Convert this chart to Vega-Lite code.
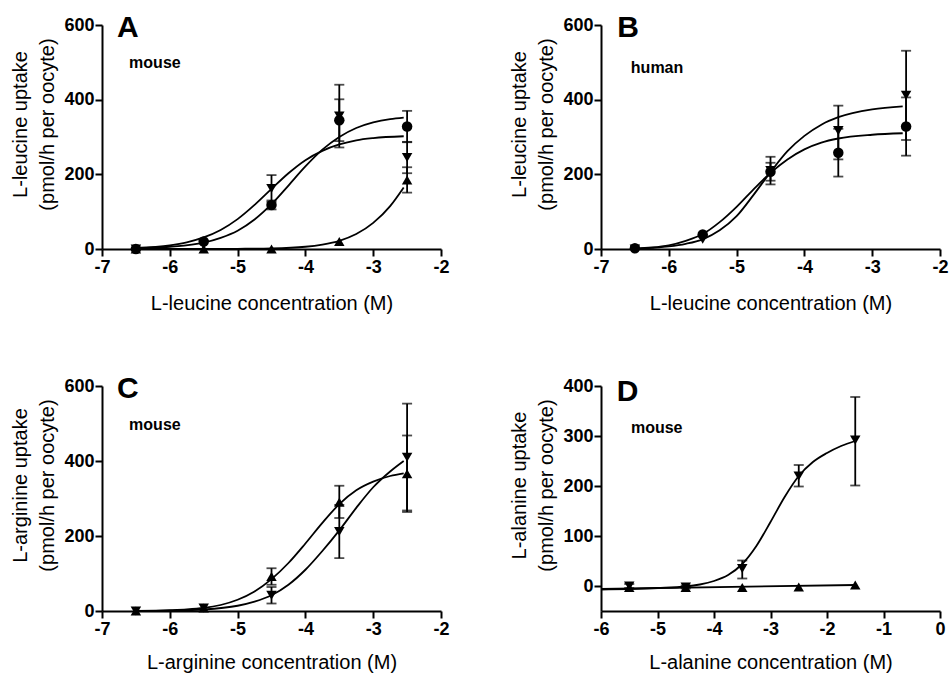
{
"$schema": "https://vega.github.io/schema/vega-lite/v6.json",
"padding": {"left": 10, "top": 12, "right": 5, "bottom": 2},
"background": "white",
"config": {
  "font": "Liberation Sans",
  "view": {"stroke": null},
  "axis": {"domainColor": "black", "domainWidth": 2, "tickColor": "black", "tickWidth": 2, "tickSize": 7, "labelFont": "Liberation Sans", "labelFontSize": 18, "labelFontWeight": "bold", "labelColor": "black", "labelPadding": 2, "titleFont": "Liberation Sans", "titleFontSize": 20, "titleFontWeight": "normal", "titleColor": "black", "grid": false, "labelFlush": false, "labelOverlap": false, "labelExpr": "datum.value < 0 ? '-' + abs(datum.value) : '' + datum.value"},
  "axisY": {"titlePadding": 6, "titleLineHeight": 27, "labelPadding": 1, "titleY": 99},
  "axisX": {"titlePadding": 17}
},
"datasets": {
  "points": [
    {"panel": "A", "series": "circle", "x": -6.5, "y": 0},
    {"panel": "A", "series": "circle", "x": -5.5, "y": 20},
    {"panel": "A", "series": "circle", "x": -4.5, "y": 118, "lo": 106, "hi": 130},
    {"panel": "A", "series": "circle", "x": -3.5, "y": 345, "lo": 289, "hi": 401},
    {"panel": "A", "series": "circle", "x": -2.5, "y": 328, "lo": 286, "hi": 370},
    {"panel": "A", "series": "down", "x": -6.5, "y": 0},
    {"panel": "A", "series": "down", "x": -5.5, "y": 12},
    {"panel": "A", "series": "down", "x": -4.5, "y": 162, "lo": 126, "hi": 198},
    {"panel": "A", "series": "down", "x": -3.5, "y": 356, "lo": 272, "hi": 440},
    {"panel": "A", "series": "down", "x": -2.5, "y": 245, "lo": 203, "hi": 287},
    {"panel": "A", "series": "up", "x": -6.5, "y": 0},
    {"panel": "A", "series": "up", "x": -5.5, "y": 0},
    {"panel": "A", "series": "up", "x": -4.5, "y": 0},
    {"panel": "A", "series": "up", "x": -3.5, "y": 20},
    {"panel": "A", "series": "up", "x": -2.5, "y": 185, "lo": 151, "hi": 219},
    {"panel": "B", "series": "circle", "x": -6.5, "y": 2},
    {"panel": "B", "series": "circle", "x": -5.5, "y": 39},
    {"panel": "B", "series": "circle", "x": -4.5, "y": 207, "lo": 183, "hi": 231},
    {"panel": "B", "series": "circle", "x": -3.5, "y": 258, "lo": 194, "hi": 322},
    {"panel": "B", "series": "circle", "x": -2.5, "y": 328, "lo": 250, "hi": 406},
    {"panel": "B", "series": "down", "x": -6.5, "y": 0},
    {"panel": "B", "series": "down", "x": -5.5, "y": 26},
    {"panel": "B", "series": "down", "x": -4.5, "y": 210, "lo": 173, "hi": 247},
    {"panel": "B", "series": "down", "x": -3.5, "y": 317, "lo": 240, "hi": 384},
    {"panel": "B", "series": "down", "x": -2.5, "y": 412, "lo": 292, "hi": 531},
    {"panel": "C", "series": "up", "x": -6.5, "y": 0},
    {"panel": "C", "series": "up", "x": -5.5, "y": 8},
    {"panel": "C", "series": "up", "x": -4.5, "y": 92, "lo": 70, "hi": 114},
    {"panel": "C", "series": "up", "x": -3.5, "y": 290, "lo": 248, "hi": 334},
    {"panel": "C", "series": "up", "x": -2.5, "y": 366, "lo": 264, "hi": 468},
    {"panel": "C", "series": "down", "x": -6.5, "y": 0},
    {"panel": "C", "series": "down", "x": -5.5, "y": 8},
    {"panel": "C", "series": "down", "x": -4.5, "y": 42, "lo": 20, "hi": 64},
    {"panel": "C", "series": "down", "x": -3.5, "y": 212, "lo": 141, "hi": 283},
    {"panel": "C", "series": "down", "x": -2.5, "y": 410, "lo": 268, "hi": 553},
    {"panel": "D", "series": "down", "x": -5.5, "y": 0, "lo": -4, "hi": 4},
    {"panel": "D", "series": "down", "x": -4.5, "y": -2, "lo": -5, "hi": 1},
    {"panel": "D", "series": "down", "x": -3.5, "y": 35, "lo": 15, "hi": 51},
    {"panel": "D", "series": "down", "x": -2.5, "y": 220, "lo": 199, "hi": 242},
    {"panel": "D", "series": "down", "x": -1.5, "y": 292, "lo": 201, "hi": 378},
    {"panel": "D", "series": "up", "x": -5.5, "y": -3},
    {"panel": "D", "series": "up", "x": -4.5, "y": -3},
    {"panel": "D", "series": "up", "x": -3.5, "y": -3},
    {"panel": "D", "series": "up", "x": -2.5, "y": -2},
    {"panel": "D", "series": "up", "x": -1.5, "y": 2}
  ],
  "curves": [
    {"panel": "A", "series": "circle", "x": -6.5, "y": 2},
    {"panel": "A", "series": "circle", "x": -6, "y": 6},
    {"panel": "A", "series": "circle", "x": -5.5, "y": 17},
    {"panel": "A", "series": "circle", "x": -5.25, "y": 30},
    {"panel": "A", "series": "circle", "x": -5, "y": 49},
    {"panel": "A", "series": "circle", "x": -4.75, "y": 79},
    {"panel": "A", "series": "circle", "x": -4.5, "y": 120},
    {"panel": "A", "series": "circle", "x": -4.25, "y": 170},
    {"panel": "A", "series": "circle", "x": -4, "y": 221},
    {"panel": "A", "series": "circle", "x": -3.75, "y": 266},
    {"panel": "A", "series": "circle", "x": -3.5, "y": 300},
    {"panel": "A", "series": "circle", "x": -3.25, "y": 324},
    {"panel": "A", "series": "circle", "x": -3, "y": 339},
    {"panel": "A", "series": "circle", "x": -2.75, "y": 348},
    {"panel": "A", "series": "circle", "x": -2.55, "y": 352},
    {"panel": "A", "series": "down", "x": -6.5, "y": 3},
    {"panel": "A", "series": "down", "x": -6, "y": 10},
    {"panel": "A", "series": "down", "x": -5.75, "y": 18},
    {"panel": "A", "series": "down", "x": -5.5, "y": 31},
    {"panel": "A", "series": "down", "x": -5.25, "y": 51},
    {"panel": "A", "series": "down", "x": -5, "y": 80},
    {"panel": "A", "series": "down", "x": -4.75, "y": 118},
    {"panel": "A", "series": "down", "x": -4.5, "y": 161},
    {"panel": "A", "series": "down", "x": -4.25, "y": 203},
    {"panel": "A", "series": "down", "x": -4, "y": 238},
    {"panel": "A", "series": "down", "x": -3.75, "y": 263},
    {"panel": "A", "series": "down", "x": -3.5, "y": 280},
    {"panel": "A", "series": "down", "x": -3.25, "y": 291},
    {"panel": "A", "series": "down", "x": -3, "y": 297},
    {"panel": "A", "series": "down", "x": -2.55, "y": 302},
    {"panel": "A", "series": "up", "x": -6.5, "y": 0},
    {"panel": "A", "series": "up", "x": -5.5, "y": 0},
    {"panel": "A", "series": "up", "x": -5, "y": 0.5},
    {"panel": "A", "series": "up", "x": -4.5, "y": 1.5},
    {"panel": "A", "series": "up", "x": -4, "y": 6},
    {"panel": "A", "series": "up", "x": -3.75, "y": 12},
    {"panel": "A", "series": "up", "x": -3.5, "y": 22},
    {"panel": "A", "series": "up", "x": -3.25, "y": 40},
    {"panel": "A", "series": "up", "x": -3, "y": 70},
    {"panel": "A", "series": "up", "x": -2.75, "y": 115},
    {"panel": "A", "series": "up", "x": -2.55, "y": 165},
    {"panel": "B", "series": "circle", "x": -6.5, "y": 1},
    {"panel": "B", "series": "circle", "x": -6.25, "y": 4},
    {"panel": "B", "series": "circle", "x": -6, "y": 10},
    {"panel": "B", "series": "circle", "x": -5.75, "y": 22},
    {"panel": "B", "series": "circle", "x": -5.5, "y": 40},
    {"panel": "B", "series": "circle", "x": -5.25, "y": 72},
    {"panel": "B", "series": "circle", "x": -5, "y": 113},
    {"panel": "B", "series": "circle", "x": -4.75, "y": 160},
    {"panel": "B", "series": "circle", "x": -4.5, "y": 204},
    {"panel": "B", "series": "circle", "x": -4.25, "y": 240},
    {"panel": "B", "series": "circle", "x": -4, "y": 267},
    {"panel": "B", "series": "circle", "x": -3.75, "y": 285},
    {"panel": "B", "series": "circle", "x": -3.5, "y": 296},
    {"panel": "B", "series": "circle", "x": -3, "y": 306},
    {"panel": "B", "series": "circle", "x": -2.55, "y": 310},
    {"panel": "B", "series": "down", "x": -6.5, "y": 0},
    {"panel": "B", "series": "down", "x": -6.25, "y": 3},
    {"panel": "B", "series": "down", "x": -6, "y": 7},
    {"panel": "B", "series": "down", "x": -5.75, "y": 14},
    {"panel": "B", "series": "down", "x": -5.5, "y": 26},
    {"panel": "B", "series": "down", "x": -5.25, "y": 50},
    {"panel": "B", "series": "down", "x": -5, "y": 88},
    {"panel": "B", "series": "down", "x": -4.75, "y": 145},
    {"panel": "B", "series": "down", "x": -4.5, "y": 206},
    {"panel": "B", "series": "down", "x": -4.25, "y": 262},
    {"panel": "B", "series": "down", "x": -4, "y": 303},
    {"panel": "B", "series": "down", "x": -3.75, "y": 333},
    {"panel": "B", "series": "down", "x": -3.5, "y": 353},
    {"panel": "B", "series": "down", "x": -3, "y": 374},
    {"panel": "B", "series": "down", "x": -2.55, "y": 382},
    {"panel": "C", "series": "up", "x": -6.5, "y": 0},
    {"panel": "C", "series": "up", "x": -6, "y": 2},
    {"panel": "C", "series": "up", "x": -5.75, "y": 4},
    {"panel": "C", "series": "up", "x": -5.5, "y": 8},
    {"panel": "C", "series": "up", "x": -5.25, "y": 16},
    {"panel": "C", "series": "up", "x": -5, "y": 30},
    {"panel": "C", "series": "up", "x": -4.75, "y": 52},
    {"panel": "C", "series": "up", "x": -4.5, "y": 85},
    {"panel": "C", "series": "up", "x": -4.25, "y": 128},
    {"panel": "C", "series": "up", "x": -4, "y": 180},
    {"panel": "C", "series": "up", "x": -3.75, "y": 235},
    {"panel": "C", "series": "up", "x": -3.5, "y": 285},
    {"panel": "C", "series": "up", "x": -3.25, "y": 322},
    {"panel": "C", "series": "up", "x": -3, "y": 345},
    {"panel": "C", "series": "up", "x": -2.75, "y": 360},
    {"panel": "C", "series": "up", "x": -2.55, "y": 367},
    {"panel": "C", "series": "down", "x": -6.5, "y": 0},
    {"panel": "C", "series": "down", "x": -6, "y": 1},
    {"panel": "C", "series": "down", "x": -5.5, "y": 4},
    {"panel": "C", "series": "down", "x": -5, "y": 14},
    {"panel": "C", "series": "down", "x": -4.75, "y": 25},
    {"panel": "C", "series": "down", "x": -4.5, "y": 42},
    {"panel": "C", "series": "down", "x": -4.25, "y": 70},
    {"panel": "C", "series": "down", "x": -4, "y": 110},
    {"panel": "C", "series": "down", "x": -3.75, "y": 160},
    {"panel": "C", "series": "down", "x": -3.5, "y": 215},
    {"panel": "C", "series": "down", "x": -3.25, "y": 275},
    {"panel": "C", "series": "down", "x": -3, "y": 330},
    {"panel": "C", "series": "down", "x": -2.75, "y": 372},
    {"panel": "C", "series": "down", "x": -2.55, "y": 400},
    {"panel": "D", "series": "down", "x": -6, "y": -7},
    {"panel": "D", "series": "down", "x": -5.5, "y": -6},
    {"panel": "D", "series": "down", "x": -5, "y": -4},
    {"panel": "D", "series": "down", "x": -4.5, "y": -1},
    {"panel": "D", "series": "down", "x": -4.25, "y": 3},
    {"panel": "D", "series": "down", "x": -4, "y": 10},
    {"panel": "D", "series": "down", "x": -3.75, "y": 22},
    {"panel": "D", "series": "down", "x": -3.5, "y": 44},
    {"panel": "D", "series": "down", "x": -3.25, "y": 80},
    {"panel": "D", "series": "down", "x": -3, "y": 128},
    {"panel": "D", "series": "down", "x": -2.75, "y": 178},
    {"panel": "D", "series": "down", "x": -2.5, "y": 220},
    {"panel": "D", "series": "down", "x": -2.25, "y": 248},
    {"panel": "D", "series": "down", "x": -2, "y": 266},
    {"panel": "D", "series": "down", "x": -1.75, "y": 280},
    {"panel": "D", "series": "down", "x": -1.5, "y": 290},
    {"panel": "D", "series": "up", "x": -6, "y": -6},
    {"panel": "D", "series": "up", "x": -1.5, "y": 2}
  ],
  "labels": [
    {"panel": "A", "letter": "A", "species": "mouse"},
    {"panel": "B", "letter": "B", "species": "human"},
    {"panel": "C", "letter": "C", "species": "mouse"},
    {"panel": "D", "letter": "D", "species": "mouse"}
  ]
},
"columns": 2,
"spacing": {"row": 137, "column": 160},
"bounds": "flush",
"concat": [
{
 "width": 339, "height": 224,
 "layer": [
  {"data": {"name": "curves"}, "transform": [{"filter": "datum.panel === 'A'"}], "mark": {"type": "line", "interpolate": "monotone", "color": "black", "strokeWidth": 1.8},
   "encoding": {"x": {"field": "x", "type": "quantitative", "title": "L-leucine concentration (M)", "scale": {"domain": [-7, -2], "nice": false, "zero": false}, "axis": {"values": [-7, -6, -5, -4, -3, -2]}},
     "y": {"field": "y", "type": "quantitative", "title": ["L-leucine uptake", "(pmol/h per oocyte)"], "scale": {"domain": [0, 600], "nice": false}, "axis": {"values": [0, 200, 400, 600]}},
     "detail": {"field": "series"}}},
  {"data": {"name": "points"}, "transform": [{"filter": "datum.panel === 'A' && isValid(datum.lo)"}], "mark": {"type": "errorbar", "color": "black", "ticks": {"size": 10, "thickness": 1.8, "color": "black"}, "rule": {"strokeWidth": 1.8, "color": "black"}},
   "encoding": {"x": {"field": "x", "type": "quantitative", "title": "L-leucine concentration (M)"},
     "y": {"field": "lo", "type": "quantitative", "title": ["L-leucine uptake", "(pmol/h per oocyte)"]}, "y2": {"field": "hi"}}},
  {"data": {"name": "points"}, "transform": [{"filter": "datum.panel === 'A'"}], "mark": {"type": "point", "filled": true, "color": "black", "opacity": 1, "size": 110},
   "encoding": {"x": {"field": "x", "type": "quantitative", "title": "L-leucine concentration (M)"},
     "y": {"field": "y", "type": "quantitative", "title": ["L-leucine uptake", "(pmol/h per oocyte)"]},
     "shape": {"field": "series", "type": "nominal", "scale": {"domain": ["circle", "up", "down"], "range": ["circle", "triangle-up", "triangle-down"]}, "legend": null}}},
  {"data": {"name": "labels"}, "transform": [{"filter": "datum.panel === 'A'"}], "mark": {"type": "text", "align": "left", "baseline": "alphabetic", "fontSize": 30, "fontWeight": "bold", "color": "black"},
   "encoding": {"x": {"datum": -6.78, "type": "quantitative", "title": "L-leucine concentration (M)"}, "y": {"datum": 568, "type": "quantitative", "title": ["L-leucine uptake", "(pmol/h per oocyte)"]}, "text": {"field": "letter"}}},
  {"data": {"name": "labels"}, "transform": [{"filter": "datum.panel === 'A'"}], "mark": {"type": "text", "align": "left", "baseline": "alphabetic", "fontSize": 16, "fontWeight": "bold", "color": "black"},
   "encoding": {"x": {"datum": -6.6, "type": "quantitative", "title": "L-leucine concentration (M)"}, "y": {"datum": 485, "type": "quantitative", "title": ["L-leucine uptake", "(pmol/h per oocyte)"]}, "text": {"field": "species"}}}
 ]
},
{
 "width": 339, "height": 224,
 "layer": [
  {"data": {"name": "curves"}, "transform": [{"filter": "datum.panel === 'B'"}], "mark": {"type": "line", "interpolate": "monotone", "color": "black", "strokeWidth": 1.8},
   "encoding": {"x": {"field": "x", "type": "quantitative", "title": "L-leucine concentration (M)", "scale": {"domain": [-7, -2], "nice": false, "zero": false}, "axis": {"values": [-7, -6, -5, -4, -3, -2]}},
     "y": {"field": "y", "type": "quantitative", "title": ["L-leucine uptake", "(pmol/h per oocyte)"], "scale": {"domain": [0, 600], "nice": false}, "axis": {"values": [0, 200, 400, 600]}},
     "detail": {"field": "series"}}},
  {"data": {"name": "points"}, "transform": [{"filter": "datum.panel === 'B' && isValid(datum.lo)"}], "mark": {"type": "errorbar", "color": "black", "ticks": {"size": 10, "thickness": 1.8, "color": "black"}, "rule": {"strokeWidth": 1.8, "color": "black"}},
   "encoding": {"x": {"field": "x", "type": "quantitative", "title": "L-leucine concentration (M)"},
     "y": {"field": "lo", "type": "quantitative", "title": ["L-leucine uptake", "(pmol/h per oocyte)"]}, "y2": {"field": "hi"}}},
  {"data": {"name": "points"}, "transform": [{"filter": "datum.panel === 'B'"}], "mark": {"type": "point", "filled": true, "color": "black", "opacity": 1, "size": 110},
   "encoding": {"x": {"field": "x", "type": "quantitative", "title": "L-leucine concentration (M)"},
     "y": {"field": "y", "type": "quantitative", "title": ["L-leucine uptake", "(pmol/h per oocyte)"]},
     "shape": {"field": "series", "type": "nominal", "scale": {"domain": ["circle", "up", "down"], "range": ["circle", "triangle-up", "triangle-down"]}, "legend": null}}},
  {"data": {"name": "labels"}, "transform": [{"filter": "datum.panel === 'B'"}], "mark": {"type": "text", "align": "left", "baseline": "alphabetic", "fontSize": 30, "fontWeight": "bold", "color": "black"},
   "encoding": {"x": {"datum": -6.76, "type": "quantitative", "title": "L-leucine concentration (M)"}, "y": {"datum": 568, "type": "quantitative", "title": ["L-leucine uptake", "(pmol/h per oocyte)"]}, "text": {"field": "letter"}}},
  {"data": {"name": "labels"}, "transform": [{"filter": "datum.panel === 'B'"}], "mark": {"type": "text", "align": "left", "baseline": "alphabetic", "fontSize": 16, "fontWeight": "bold", "color": "black"},
   "encoding": {"x": {"datum": -6.56, "type": "quantitative", "title": "L-leucine concentration (M)"}, "y": {"datum": 471, "type": "quantitative", "title": ["L-leucine uptake", "(pmol/h per oocyte)"]}, "text": {"field": "species"}}}
 ]
},
{
 "width": 339, "height": 225,
 "layer": [
  {"data": {"name": "curves"}, "transform": [{"filter": "datum.panel === 'C'"}], "mark": {"type": "line", "interpolate": "monotone", "color": "black", "strokeWidth": 1.8},
   "encoding": {"x": {"field": "x", "type": "quantitative", "title": "L-arginine concentration (M)", "scale": {"domain": [-7, -2], "nice": false, "zero": false}, "axis": {"values": [-7, -6, -5, -4, -3, -2], "titlePadding": 14}},
     "y": {"field": "y", "type": "quantitative", "title": ["L-arginine uptake", "(pmol/h per oocyte)"], "scale": {"domain": [0, 600], "nice": false}, "axis": {"values": [0, 200, 400, 600]}},
     "detail": {"field": "series"}}},
  {"data": {"name": "points"}, "transform": [{"filter": "datum.panel === 'C' && isValid(datum.lo)"}], "mark": {"type": "errorbar", "color": "black", "ticks": {"size": 10, "thickness": 1.8, "color": "black"}, "rule": {"strokeWidth": 1.8, "color": "black"}},
   "encoding": {"x": {"field": "x", "type": "quantitative", "title": "L-arginine concentration (M)"},
     "y": {"field": "lo", "type": "quantitative", "title": ["L-arginine uptake", "(pmol/h per oocyte)"]}, "y2": {"field": "hi"}}},
  {"data": {"name": "points"}, "transform": [{"filter": "datum.panel === 'C'"}], "mark": {"type": "point", "filled": true, "color": "black", "opacity": 1, "size": 110},
   "encoding": {"x": {"field": "x", "type": "quantitative", "title": "L-arginine concentration (M)"},
     "y": {"field": "y", "type": "quantitative", "title": ["L-arginine uptake", "(pmol/h per oocyte)"]},
     "shape": {"field": "series", "type": "nominal", "scale": {"domain": ["circle", "up", "down"], "range": ["circle", "triangle-up", "triangle-down"]}, "legend": null}}},
  {"data": {"name": "labels"}, "transform": [{"filter": "datum.panel === 'C'"}], "mark": {"type": "text", "align": "left", "baseline": "alphabetic", "fontSize": 30, "fontWeight": "bold", "color": "black"},
   "encoding": {"x": {"datum": -6.78, "type": "quantitative", "title": "L-arginine concentration (M)"}, "y": {"datum": 568, "type": "quantitative", "title": ["L-arginine uptake", "(pmol/h per oocyte)"]}, "text": {"field": "letter"}}},
  {"data": {"name": "labels"}, "transform": [{"filter": "datum.panel === 'C'"}], "mark": {"type": "text", "align": "left", "baseline": "alphabetic", "fontSize": 16, "fontWeight": "bold", "color": "black"},
   "encoding": {"x": {"datum": -6.6, "type": "quantitative", "title": "L-arginine concentration (M)"}, "y": {"datum": 483, "type": "quantitative", "title": ["L-arginine uptake", "(pmol/h per oocyte)"]}, "text": {"field": "species"}}}
 ]
},
{
 "width": 339, "height": 225,
 "layer": [
  {"data": {"name": "curves"}, "transform": [{"filter": "datum.panel === 'D'"}], "mark": {"type": "line", "interpolate": "monotone", "color": "black", "strokeWidth": 1.8},
   "encoding": {"x": {"field": "x", "type": "quantitative", "title": "L-alanine concentration (M)", "scale": {"domain": [-6, 0], "nice": false, "zero": false}, "axis": {"values": [-6, -5, -4, -3, -2, -1, 0], "titlePadding": 14}},
     "y": {"field": "y", "type": "quantitative", "title": ["L-alanine uptake", "(pmol/h per oocyte)"], "scale": {"domain": [-50, 400], "nice": false, "zero": false}, "axis": {"values": [0, 100, 200, 300, 400]}},
     "detail": {"field": "series"}}},
  {"data": {"name": "points"}, "transform": [{"filter": "datum.panel === 'D' && isValid(datum.lo)"}], "mark": {"type": "errorbar", "color": "black", "ticks": {"size": 10, "thickness": 1.8, "color": "black"}, "rule": {"strokeWidth": 1.8, "color": "black"}},
   "encoding": {"x": {"field": "x", "type": "quantitative", "title": "L-alanine concentration (M)"},
     "y": {"field": "lo", "type": "quantitative", "title": ["L-alanine uptake", "(pmol/h per oocyte)"]}, "y2": {"field": "hi"}}},
  {"data": {"name": "points"}, "transform": [{"filter": "datum.panel === 'D'"}], "mark": {"type": "point", "filled": true, "color": "black", "opacity": 1, "size": 110},
   "encoding": {"x": {"field": "x", "type": "quantitative", "title": "L-alanine concentration (M)"},
     "y": {"field": "y", "type": "quantitative", "title": ["L-alanine uptake", "(pmol/h per oocyte)"]},
     "shape": {"field": "series", "type": "nominal", "scale": {"domain": ["circle", "up", "down"], "range": ["circle", "triangle-up", "triangle-down"]}, "legend": null}}},
  {"data": {"name": "labels"}, "transform": [{"filter": "datum.panel === 'D'"}], "mark": {"type": "text", "align": "left", "baseline": "alphabetic", "fontSize": 30, "fontWeight": "bold", "color": "black"},
   "encoding": {"x": {"datum": -5.72, "type": "quantitative", "title": "L-alanine concentration (M)"}, "y": {"datum": 370, "type": "quantitative", "title": ["L-alanine uptake", "(pmol/h per oocyte)"]}, "text": {"field": "letter"}}},
  {"data": {"name": "labels"}, "transform": [{"filter": "datum.panel === 'D'"}], "mark": {"type": "text", "align": "left", "baseline": "alphabetic", "fontSize": 16, "fontWeight": "bold", "color": "black"},
   "encoding": {"x": {"datum": -5.47, "type": "quantitative", "title": "L-alanine concentration (M)"}, "y": {"datum": 306, "type": "quantitative", "title": ["L-alanine uptake", "(pmol/h per oocyte)"]}, "text": {"field": "species"}}}
 ]
}
]
}
